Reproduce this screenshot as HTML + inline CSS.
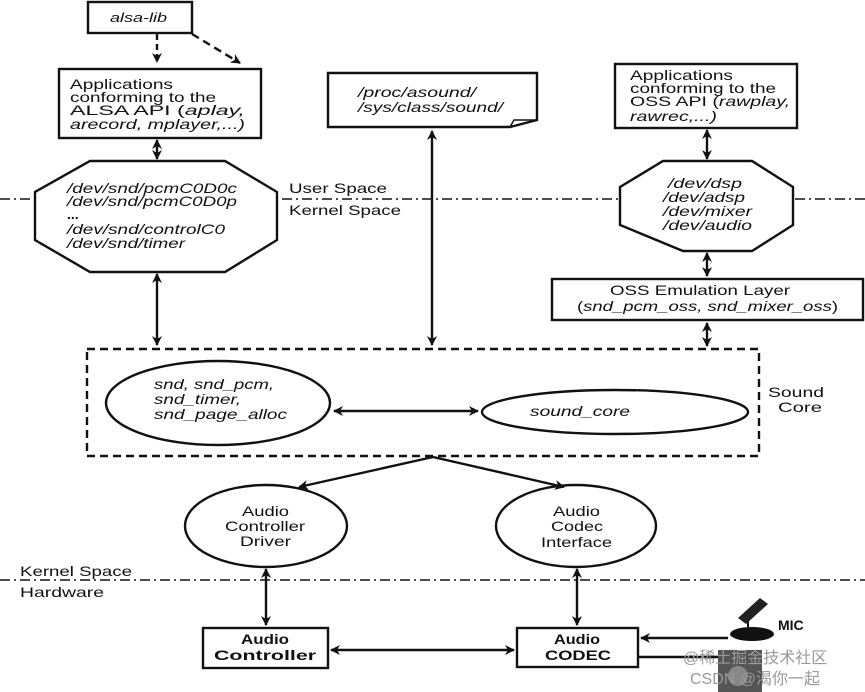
<!DOCTYPE html>
<html><head><meta charset="utf-8"><style>
html,body{margin:0;padding:0;background:#fff;}
svg{display:block;font-family:"Liberation Sans",Arial,sans-serif;}
.t{font-size:14px;fill:#111;}
.i{font-style:italic;}
.b{font-weight:bold;}
</style></head><body>
<svg width="865" height="692" viewBox="0 0 865 692" xmlns="http://www.w3.org/2000/svg">
<defs>
<marker id="a" markerWidth="10" markerHeight="10" refX="9" refY="5" orient="auto-start-reverse" markerUnits="userSpaceOnUse">
<path d="M0,0 L10,5 L0,10 L3,5 z" fill="#111"/></marker>
</defs>
<g fill="none" stroke="#111" stroke-width="2.4">
<path d="M0,199 H35 M282,199 H620 M795,199 H865" stroke-width="1.6" stroke-dasharray="10,4,2,4"/>
<path d="M0,580 H865" stroke-width="1.6" stroke-dasharray="10,4,2,4"/>
<rect x="88" y="2" width="104" height="31"/>
<line x1="157" y1="34" x2="157" y2="62" stroke-dasharray="6,4" marker-end="url(#a)"/>
<line x1="192" y1="34" x2="240" y2="63" stroke-dasharray="8,5" marker-end="url(#a)"/>
<rect x="59" y="69" width="202" height="69"/>
<line x1="157" y1="140" x2="157" y2="159" marker-start="url(#a)" marker-end="url(#a)"/>
<polygon points="90,161 225,161 277,192 277,240 225,272 90,272 35,240 35,192"/>
<line x1="157" y1="274" x2="157" y2="345" marker-start="url(#a)" marker-end="url(#a)"/>
<path d="M328,73 H537 V120 L510,127 H328 Z"/>
<path d="M510,127 L514,120 H537" stroke-width="1.5"/>
<line x1="432" y1="131" x2="432" y2="345" marker-start="url(#a)" marker-end="url(#a)"/>
<rect x="615" y="64" width="182" height="64"/>
<line x1="707" y1="130" x2="707" y2="159" marker-start="url(#a)" marker-end="url(#a)"/>
<polygon points="663,161 752,161 793,187 793,225 752,251 683,251 620,225 620,187"/>
<line x1="707" y1="253" x2="707" y2="276" marker-start="url(#a)" marker-end="url(#a)"/>
<rect x="552" y="279" width="311" height="41"/>
<line x1="707" y1="323" x2="707" y2="346" marker-start="url(#a)" marker-end="url(#a)"/>
<rect x="87" y="349" width="672" height="107" stroke-dasharray="8,5"/>
<ellipse cx="218" cy="403" rx="112" ry="42"/>
<ellipse cx="615" cy="412" rx="133" ry="22"/>
<line x1="334" y1="411" x2="478" y2="411" marker-start="url(#a)" marker-end="url(#a)"/>
<line x1="433" y1="457" x2="299" y2="487" marker-end="url(#a)"/>
<line x1="433" y1="457" x2="564" y2="487" marker-end="url(#a)"/>
<ellipse cx="266" cy="526" rx="81" ry="41"/>
<ellipse cx="576" cy="526" rx="80" ry="41"/>
<line x1="266" y1="569" x2="266" y2="625" marker-start="url(#a)" marker-end="url(#a)"/>
<line x1="577" y1="569" x2="577" y2="625" marker-start="url(#a)" marker-end="url(#a)"/>
<rect x="203" y="628" width="125" height="40"/>
<rect x="517" y="628" width="121" height="39"/>
<line x1="331" y1="650" x2="514" y2="650" marker-start="url(#a)" marker-end="url(#a)"/>
<line x1="728" y1="638" x2="641" y2="638" marker-end="url(#a)"/>
<line x1="638" y1="657" x2="720" y2="657"/>
</g>
<ellipse cx="752" cy="634" rx="22" ry="7" fill="#111"/>
<line x1="748" y1="627" x2="748" y2="615" stroke="#111" stroke-width="2"/>
<path d="M738,618 L760,598 L768,604 L746,624 Z" fill="#222"/>
<rect x="718" y="650" width="44" height="42" fill="#555"/>
<circle cx="738" cy="676" r="10" fill="#888"/>
<g class="t">
<text x="110" y="22" class="i" font-size="13" textLength="57" lengthAdjust="spacingAndGlyphs">alsa-lib</text>
<text x="70" y="89" textLength="103" lengthAdjust="spacingAndGlyphs">Applications</text>
<text x="70" y="102" textLength="146" lengthAdjust="spacingAndGlyphs">conforming to the</text>
<text x="70" y="115" textLength="175" lengthAdjust="spacingAndGlyphs">ALSA API (<tspan class="i">aplay,</tspan></text>
<text x="70" y="129" class="i" textLength="175" lengthAdjust="spacingAndGlyphs">arecord, mplayer,...)</text>
<text x="67" y="193" class="i" textLength="170" lengthAdjust="spacingAndGlyphs">/dev/snd/pcmC0D0c</text>
<text x="67" y="206" class="i" textLength="170" lengthAdjust="spacingAndGlyphs">/dev/snd/pcmC0D0p</text>
<text x="67" y="219" class="b">...</text>
<text x="67" y="234" class="i" textLength="158" lengthAdjust="spacingAndGlyphs">/dev/snd/controlC0</text>
<text x="67" y="248" class="i" textLength="118" lengthAdjust="spacingAndGlyphs">/dev/snd/timer</text>
<text x="289" y="193" textLength="98" lengthAdjust="spacingAndGlyphs">User Space</text>
<text x="289" y="215" textLength="112" lengthAdjust="spacingAndGlyphs">Kernel Space</text>
<text x="358" y="97" class="i" textLength="118" lengthAdjust="spacingAndGlyphs">/proc/asound/</text>
<text x="358" y="112" class="i" textLength="145" lengthAdjust="spacingAndGlyphs">/sys/class/sound/</text>
<text x="630" y="80" textLength="103" lengthAdjust="spacingAndGlyphs">Applications</text>
<text x="630" y="93" textLength="146" lengthAdjust="spacingAndGlyphs">conforming to the</text>
<text x="630" y="106" textLength="160" lengthAdjust="spacingAndGlyphs">OSS API (<tspan class="i">rawplay,</tspan></text>
<text x="630" y="121" class="i" textLength="87" lengthAdjust="spacingAndGlyphs">rawrec,...)</text>
<text x="668" y="188" class="i" textLength="74" lengthAdjust="spacingAndGlyphs">/dev/dsp</text>
<text x="663" y="202" class="i" textLength="82" lengthAdjust="spacingAndGlyphs">/dev/adsp</text>
<text x="663" y="216" class="i" textLength="89" lengthAdjust="spacingAndGlyphs">/dev/mixer</text>
<text x="663" y="230" class="i" textLength="89" lengthAdjust="spacingAndGlyphs">/dev/audio</text>
<text x="610" y="295" textLength="180" lengthAdjust="spacingAndGlyphs">OSS Emulation Layer</text>
<text x="577" y="311" textLength="261" lengthAdjust="spacingAndGlyphs">(<tspan class="i">snd_pcm_oss, snd_mixer_oss</tspan>)</text>
<text x="530" y="416" class="i" textLength="100" lengthAdjust="spacingAndGlyphs">sound_core</text>
<text x="154" y="389" class="i" textLength="120" lengthAdjust="spacingAndGlyphs">snd, snd_pcm,</text>
<text x="154" y="404" class="i" textLength="87" lengthAdjust="spacingAndGlyphs">snd_timer,</text>
<text x="154" y="419" class="i" textLength="133" lengthAdjust="spacingAndGlyphs">snd_page_alloc</text>
<text x="242" y="516" textLength="47" lengthAdjust="spacingAndGlyphs">Audio</text>
<text x="225" y="531" textLength="80" lengthAdjust="spacingAndGlyphs">Controller</text>
<text x="240" y="546" textLength="51" lengthAdjust="spacingAndGlyphs">Driver</text>
<text x="553" y="516" textLength="47" lengthAdjust="spacingAndGlyphs">Audio</text>
<text x="551" y="531" textLength="52" lengthAdjust="spacingAndGlyphs">Codec</text>
<text x="541" y="547" textLength="71" lengthAdjust="spacingAndGlyphs">Interface</text>
<text x="241" y="644" class="b" textLength="48" lengthAdjust="spacingAndGlyphs">Audio</text>
<text x="214" y="660" class="b" textLength="102" lengthAdjust="spacingAndGlyphs">Controller</text>
<text x="554" y="644" class="b" textLength="46" lengthAdjust="spacingAndGlyphs">Audio</text>
<text x="545" y="660" class="b" textLength="66" lengthAdjust="spacingAndGlyphs">CODEC</text>
<text x="768" y="397" textLength="56" lengthAdjust="spacingAndGlyphs">Sound</text>
<text x="778" y="412" textLength="44" lengthAdjust="spacingAndGlyphs">Core</text>
<text x="20" y="576" textLength="112" lengthAdjust="spacingAndGlyphs">Kernel Space</text>
<text x="20" y="597" textLength="84" lengthAdjust="spacingAndGlyphs">Hardware</text>
<text x="778" y="630" class="b">MIC</text>
</g>
<g font-family="'Liberation Sans','Noto Sans CJK SC',sans-serif" fill="#999" font-size="16">
<text x="683" y="663">@稀土掘金技术社区</text>
<text x="690" y="684">CSDN @渴你一起</text>
</g>
</svg>
</body></html>
